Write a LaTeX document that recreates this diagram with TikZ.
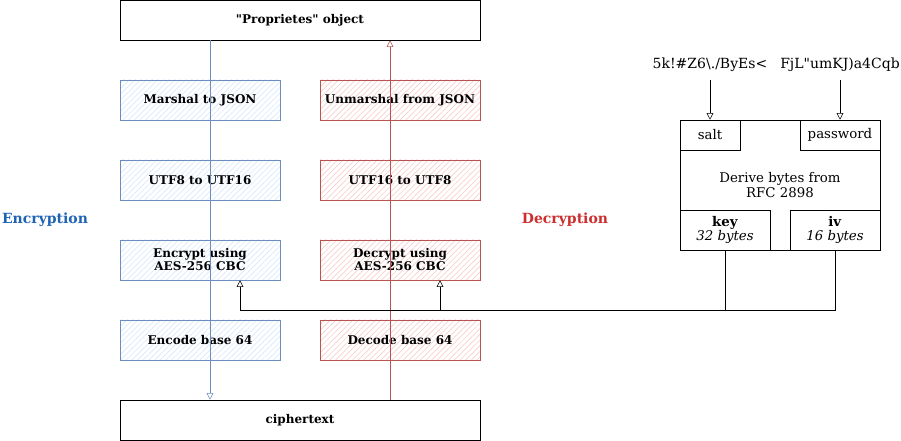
\documentclass[tikz,border=0pt]{standalone}
\usepackage{fontspec}
\setmainfont{DejaVu Serif}[Ligatures=TeXOff]
\usetikzlibrary{arrows.meta,patterns.meta}
\definecolor{encfill}{HTML}{DAE8FC}
\definecolor{encdraw}{HTML}{6C8EBF}
\definecolor{decfill}{HTML}{F8CECC}
\definecolor{decdraw}{HTML}{B85450}
\definecolor{enctext}{HTML}{1F63B4}
\definecolor{dectext}{HTML}{CC2E2E}
\tikzset{
    wide box/.style={draw=black, fill=white, minimum width=270pt, minimum height=30pt,
        font=\bfseries\fontsize{9}{10}\selectfont},
    enc box/.style={draw=encdraw, minimum width=120pt, minimum height=30pt,
        pattern={Lines[angle=45,distance=3pt,line width=0.5pt]}, pattern color=encfill,
        align=center, font=\bfseries\fontsize{9}{9.75}\selectfont},
    dec box/.style={enc box, draw=decdraw, pattern color=decfill},
    kdf box/.style={draw=black, fill=white, inner sep=0pt, align=center,
        font=\fontsize{10}{11}\selectfont},
    enc line/.style={draw=encdraw, -{Triangle[open,length=5pt,width=5pt]}},
    dec line/.style={draw=decdraw, -{Triangle[open,length=5pt,width=5pt]}},
    key line/.style={draw=black, -{Triangle[open,length=5pt,width=5pt]}}
}

\begin{document}
\begin{tikzpicture}[x=0.75pt, y=-0.75pt]
    % Init
    \useasboundingbox (0,0) rectangle (901,441);
    % 1. def end points
    \node[wide box] (prop) at (300,20) {"Proprietes" object};
    \node[wide box] (cipher) at (300,420) {ciphertext};
    % 2. def encryption steps
    \node[enc box] (marshal) at (200,100) {Marshal to JSON};
    \node[enc box] (toutf16) at (200,180) {UTF8 to UTF16};
    \node[enc box] (encrypt) at (200,260) {Encrypt using\\AES-256 CBC};
    \node[enc box] (encode) at (200,340) {Encode base 64};
    % 3. def decryption steps
    \node[dec box] (unmarshal) at (400,100) {Unmarshal from JSON};
    \node[dec box] (toutf8) at (400,180) {UTF16 to UTF8};
    \node[dec box] (decrypt) at (400,260) {Decrypt using\\AES-256 CBC};
    \node[dec box] (decode) at (400,340) {Decode base 64};
    % 4. labels
    \node[text=enctext, font=\bfseries\fontsize{10.5}{11}\selectfont] (enclabel) at (45,220) {Encryption};
    \node[text=dectext, font=\bfseries\fontsize{10.5}{11}\selectfont] (declabel) at (565,220) {Decryption};
    % 5. key derivation
    \node[kdf box, minimum width=150pt, minimum height=97.5pt] (kdf) at (780,185) {Derive bytes from\\RFC 2898};
    \node[kdf box, minimum width=45pt, minimum height=22.5pt] (salt) at (710,135) {salt};
    \node[kdf box, minimum width=60pt, minimum height=22.5pt] (password) at (840,135) {password};
    \node[kdf box, minimum width=67.5pt, minimum height=30pt] (key) at (725,230) {\textbf{key}\\\textit{32 bytes}};
    \node[kdf box, minimum width=67.5pt, minimum height=30pt] (iv) at (835,230) {\textbf{iv}\\\textit{16 bytes}};
    \node[font=\fontsize{10.5}{11}\selectfont, inner sep=1pt] (saltval) at (710,65) {5k!\#Z6\textbackslash./ByEs<};
    \node[font=\fontsize{10.5}{11}\selectfont, inner sep=1pt] (passval) at (840,65) {FjL"umKJ)a4Cqb};
    % 6. connectors
    \draw[enc line] (prop.south -| 210,0) -- (cipher.north -| 210,0);
    \draw[dec line] (cipher.north -| 390,0) -- (prop.south -| 390,0);
    \draw[key line] (saltval.south |- 0,80) -- (salt.north);
    \draw[key line] (passval.south |- 0,80) -- (password.north);
    \draw[key line] (key.south) -- ++(0,60) -| ([xshift=30pt]encrypt.south);
    \draw[key line] (iv.south) -- ++(0,60) -| ([xshift=30pt]decrypt.south);
\end{tikzpicture}
\end{document}
